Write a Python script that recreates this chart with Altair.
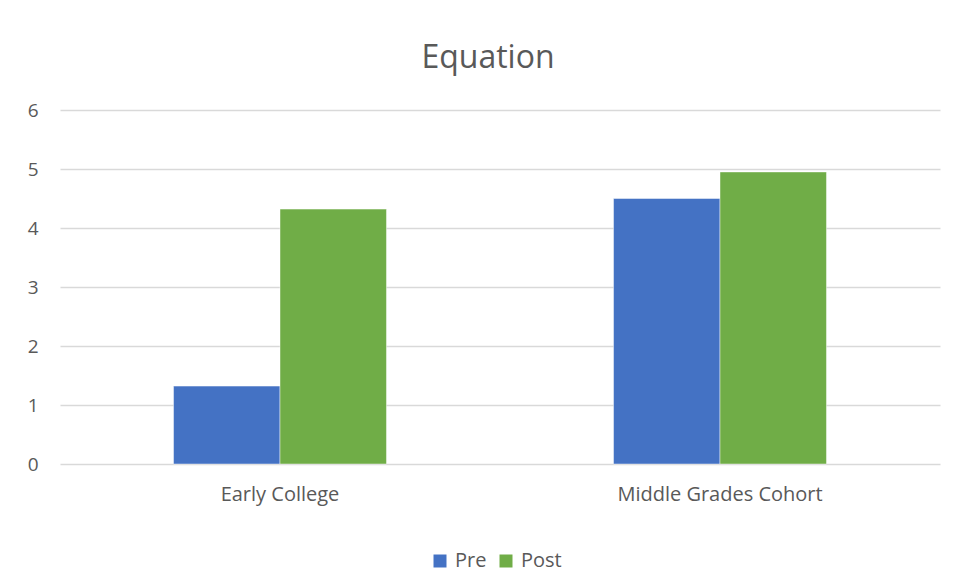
import altair as alt
import pandas as pd

categories = ["Early College", "Middle Grades Cohort"]
series = ["Pre", "Post"]
pre_values = [1.32, 4.50]
post_values = [4.32, 4.95]

rows = []
for i, c in enumerate(categories):
    rows.append({"category": c, "series": "Pre", "value": pre_values[i]})
    rows.append({"category": c, "series": "Post", "value": post_values[i]})
df = pd.DataFrame(rows)

FONT = "Open Sans"
TXT = "#595959"

chart = alt.Chart(df).mark_bar(stroke="white", strokeOpacity=0.45, strokeWidth=1).encode(
    x=alt.X("category:N", sort=categories, title=None,
            scale=alt.Scale(paddingInner=0.516, paddingOuter=0.258),
            axis=alt.Axis(labelAngle=0, labelFontSize=20, labelColor=TXT, labelFont=FONT,
                          ticks=False, domain=False, labelPadding=20, labelLimit=500)),
    xOffset=alt.XOffset("series:N", sort=series, scale=alt.Scale(paddingInner=0, paddingOuter=0)),
    y=alt.Y("value:Q", title=None,
            scale=alt.Scale(domain=[0, 6]),
            axis=alt.Axis(values=[0, 1, 2, 3, 4, 5, 6], labelFontSize=19, labelColor=TXT,
                          labelFont=FONT, ticks=False, domain=False, labelPadding=22,
                          gridColor="#d9d9d9", gridWidth=1.3)),
    color=alt.Color("series:N", sort=series,
                    scale=alt.Scale(domain=series, range=["#4472C4", "#70AD47"]),
                    legend=alt.Legend(orient="none", legendX=370, legendY=441,
                                      direction="horizontal", title=None, symbolType="square",
                                      symbolSize=169, labelFontSize=20, labelColor=TXT,
                                      labelFont=FONT, columnPadding=9, labelOffset=5,
                                      symbolStrokeWidth=0)),
).properties(
    width=880,
    height=354,
    title=alt.TitleParams("Equation", fontSize=32, font=FONT, color=TXT, fontWeight="normal",
                          anchor="middle", offset=26, dx=-12),
    padding={"left": 52, "top": 102, "right": 8, "bottom": 111},
    autosize=alt.AutoSizeParams(type="none"),
).configure_view(stroke=None)

chart.save("out.html", embed_options={"renderer": "svg", "actions": False})
